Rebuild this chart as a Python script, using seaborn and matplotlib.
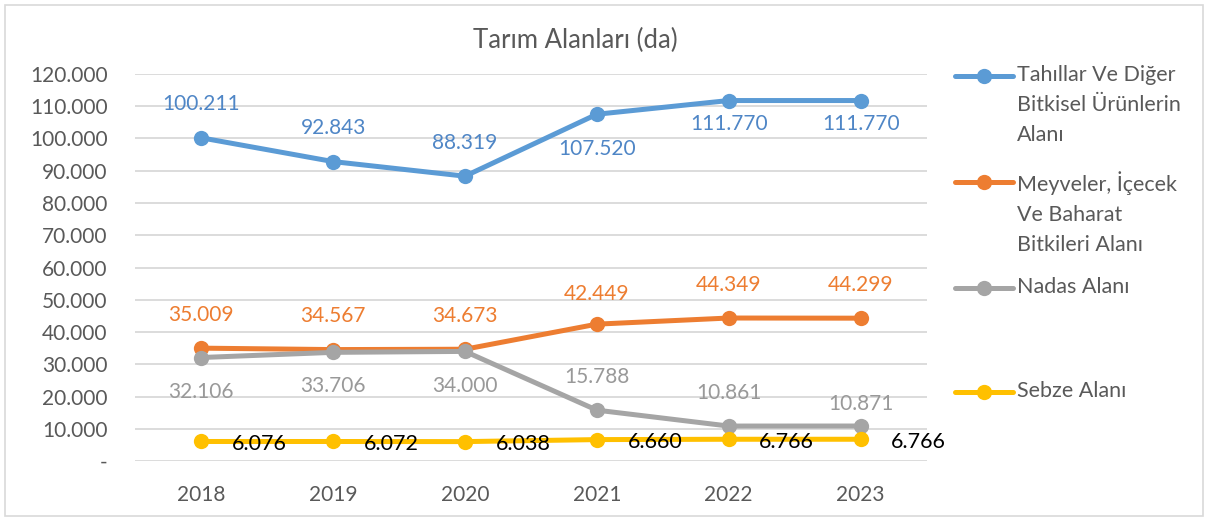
import numpy as np
import pandas as pd
import matplotlib
matplotlib.use("Agg")
import matplotlib.pyplot as plt
from matplotlib.lines import Line2D
from matplotlib.patches import Rectangle
from matplotlib.ticker import FuncFormatter
import seaborn as sns

# veriler
years = [2018, 2019, 2020, 2021, 2022, 2023]
tahil = [100211, 92843, 88319, 107520, 111770, 111770]
meyve = [35009, 34567, 34673, 42449, 44349, 44299]
nadas = [32106, 33706, 34000, 15788, 10861, 10871]
sebze = [6076, 6072, 6038, 6660, 6766, 6766]

series_names = [
    "Tahıllar Ve Diğer\nBitkisel Ürünlerin\nAlanı",
    "Meyveler, İçecek\nVe Baharat\nBitkileri Alanı",
    "Nadas Alanı",
    "Sebze Alanı",
]
colors = ["#5B9BD5", "#ED7D31", "#A5A5A5", "#FFC000"]
label_colors = ["#4F86C6", "#ED7D31", "#999999", "#000000"]

df = pd.DataFrame({
    "Yıl": years * 4,
    "Alan": tahil + meyve + nadas + sebze,
    "Seri": [n for n in series_names for _ in years],
})

sns.set_style("white")
plt.rcParams["font.family"] = ["Lato", "DejaVu Sans"]

fig = plt.figure(figsize=(12.08, 5.21), dpi=100)
ax = fig.add_axes([0.112, 0.115, 0.655, 0.743])

sns.lineplot(data=df, x="Yıl", y="Alan", hue="Seri", palette=colors,
             marker="o", markersize=11, markeredgewidth=0, linewidth=3.6,
             errorbar=None, legend=False, ax=ax)

ax.set_xlim(2017.5, 2023.5)
ax.set_ylim(0, 120000)
ax.set_yticks(np.arange(0, 120001, 10000))
ax.set_xticks(years)
ax.yaxis.set_major_formatter(FuncFormatter(
    lambda v, p: "-" if v == 0 else f"{int(v):,}".replace(",", ".")))
ax.grid(axis="y", color="#D9D9D9", linewidth=1.3)
ax.grid(axis="x", visible=False)
ax.set_axisbelow(True)
for s in ax.spines.values():
    s.set_visible(False)
ax.tick_params(axis="y", length=0, pad=20, labelsize=15, labelcolor="#595959")
ax.tick_params(axis="x", length=0, pad=17, labelsize=15, labelcolor="#595959")
ax.set_xlabel("")
ax.set_ylabel("")

# veri etiketleri
fmt = lambda v: f"{v:,}".replace(",", ".")
all_vals = [tahil, meyve, nadas, sebze]
offsets = [
    [24, 24, 24, -25, -17, -17],
    [24, 24, 24, 22, 24, 24],
    [-25, -24, -25, 24, 24, 16],
    None,
]
for k, vals in enumerate(all_vals):
    for i, (x, v) in enumerate(zip(years, vals)):
        if k == 3:
            ax.annotate(fmt(v), (x, v), xytext=(22, -2), textcoords="offset points",
                        ha="left", va="center", fontsize=15.5, color=label_colors[k])
        else:
            ax.annotate(fmt(v), (x, v), xytext=(0, offsets[k][i]), textcoords="offset points",
                        ha="center", va="center", fontsize=15, color=label_colors[k])

# başlık
fig.text(0.476, 0.923, "Tarım Alanları (da)", ha="center", va="center",
         fontsize=18.5, color="#595959")

# lejant
leg_y = [76, 182, 288, 392]
for name, c, y in zip(series_names, colors, leg_y):
    yf = 1 - y / 521
    fig.add_artist(Line2D([955 / 1208, 1013 / 1208], [yf, yf], color=c, linewidth=3.6,
                          transform=fig.transFigure))
    fig.add_artist(Line2D([984 / 1208], [yf], color=c, marker="o", markersize=11,
                          markeredgewidth=0, transform=fig.transFigure))
    fig.text(1017 / 1208, 1 - (y - 11) / 521, name, ha="left", va="top",
             fontsize=15.5, color="#595959", linespacing=1.62)

# çerçeve
fig.add_artist(Rectangle((5 / 1208, 5 / 521), 1198 / 1208, 511 / 521, fill=False,
                         edgecolor="#D9D9D9", linewidth=1.2, transform=fig.transFigure))

fig.savefig("out.png", dpi=100)
